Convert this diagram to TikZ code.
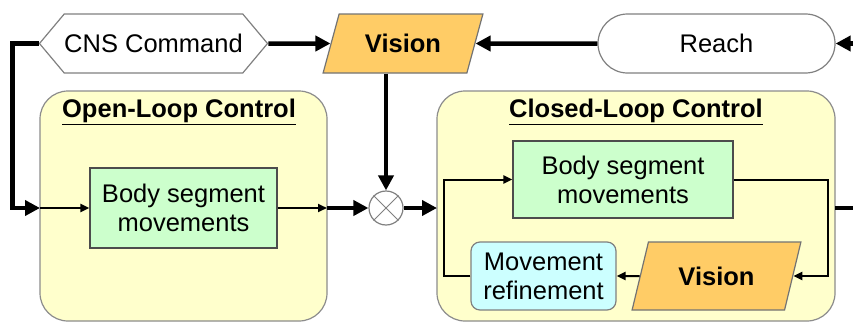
\documentclass[tikz,border=0pt]{standalone}
\usepackage{fontspec}
\setmainfont{Liberation Sans}
\usepackage{tikz}
\usetikzlibrary{shapes,arrows.meta,positioning,calc}

\definecolor{panelfill}{HTML}{FFFFCC}
\definecolor{bodyfill}{HTML}{CCFFCC}
\definecolor{visfill}{HTML}{FFCC66}
\definecolor{refinefill}{HTML}{CCFFFF}

\tikzset{
  txt/.style={font=\fontsize{25.5}{29}\selectfont, align=center, inner sep=0pt},
  panel/.style={draw=black!45, fill=panelfill, line width=1.2pt, rounded corners=28pt},
  bodybox/.style={txt, draw=black!70, fill=bodyfill, line width=1.2pt},
  visbox/.style={txt, font=\fontsize{25.5}{29}\selectfont\bfseries, draw=black!55, fill=visfill,
    line width=1.2pt, trapezium, trapezium stretches, trapezium left angle=63,
    trapezium right angle=117},
  bigarrow/.style={line width=4.5pt, -{Triangle[length=15pt,width=15pt]}},
  bigline/.style={line width=4.5pt},
  smallarrow/.style={line width=2pt, -{Triangle[length=9pt,width=8pt]}},
}

\begin{document}
\begin{tikzpicture}[x=1pt,y=-1pt]
  \useasboundingbox (0,0) rectangle (853,324);

  % the two control panels
  \draw[panel] (40,91) rectangle (327,321);
  \draw[panel] (437,91) rectangle (835,321);
  \node[txt, font=\fontsize{25.5}{29}\selectfont\bfseries] (opentitle) at (179,112) {\underline{Open-Loop Control}};
  \node[txt, font=\fontsize{25.5}{29}\selectfont\bfseries] (closedtitle) at (636,112) {\underline{Closed-Loop Control}};

  % top row
  \node[txt, draw=black!50, fill=white, line width=1.2pt, signal, signal to=west and east,
    signal pointer angle=100, minimum width=227pt, minimum height=59pt] (cns) at (153.5,43.5) {CNS Command};
  \node[visbox, minimum width=160pt, minimum height=59pt] (vis1) at (403,43.5) {Vision};
  \node[txt, draw=black!50, fill=white, line width=1.2pt, rounded rectangle,
    minimum width=237pt, minimum height=59pt] (reach) at (716.5,43.5) {Reach};
  \coordinate (inR) at (853,43.5);

  % open loop
  \node[bodybox, minimum width=187pt, minimum height=80pt] (body1) at (183.5,208) {Body segment\\movements};

  % mixing point
  \node[circle, draw=black!50, fill=white, line width=1.2pt, minimum size=34pt, inner sep=0pt] (mix) at (386,208) {};
  \draw[black!50, line width=1pt] (mix.north west) -- (mix.south east);
  \draw[black!50, line width=1pt] (mix.north east) -- (mix.south west);

  % closed loop
  \node[bodybox, minimum width=220pt, minimum height=77pt] (body2) at (623,179.5) {Body segment\\movements};
  \node[visbox, trapezium left angle=64, trapezium right angle=116,
    minimum width=169pt, minimum height=68pt] (vis2) at (716.5,276) {Vision};
  \node[txt, draw=black!50, fill=refinefill, line width=1.2pt, rounded corners=9pt,
    minimum width=145pt, minimum height=68pt] (refine) at (543.5,276) {Movement\\refinement};
  \coordinate (outR) at (853,208);

  % connectors
  \draw[bigarrow] (cns.east) -- (vis1.west);
  \draw[bigarrow] (reach.west) -- (vis1.east);
  \draw[bigarrow] (inR) -- (reach.east);
  \draw[bigarrow] (cns.west) -- ++(-26,0) |- (40,208);
  \draw[smallarrow] (40,208) -- (body1.west);
  \draw[smallarrow] (body1.east) -- (327,208);
  \draw[bigarrow] (327,208) -- (mix.west);
  \draw[bigarrow] (mix |- vis1.south) -- (mix.north);
  \draw[bigarrow] (mix.east) -- (437,208);
  \draw[bigline] (835,208) -- (outR);
  \draw[smallarrow] (body2.east) -- ++(94,0) |- (vis2.east);
  \draw[smallarrow] (vis2.west) -- (refine.east);
  \draw[smallarrow] (refine.west) -- ++(-26,0) |- (body2.west);
\end{tikzpicture}
\end{document}
